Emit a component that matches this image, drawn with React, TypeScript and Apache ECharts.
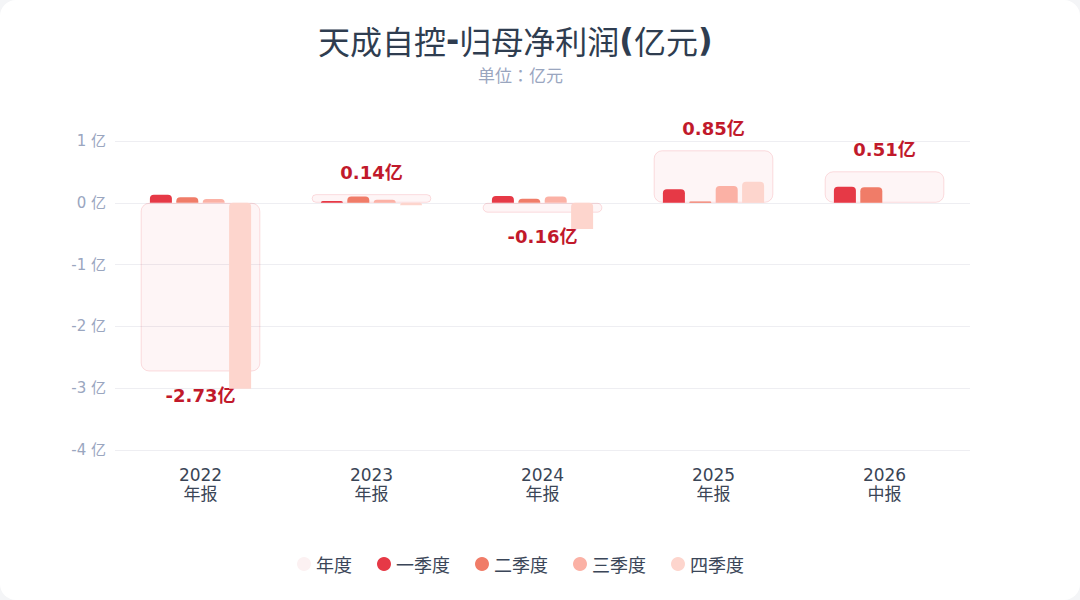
import React, { useEffect, useRef } from "react";
import * as echarts from "echarts";

const categories = ["2022\n年报", "2023\n年报", "2024\n年报", "2025\n年报", "2026\n中报"];
const annual = [-2.73, 0.14, -0.16, 0.85, 0.51];
const q1 = [0.13, 0.03, 0.11, 0.22, 0.26];
const q2 = [0.09, 0.1, 0.065, 0.02, 0.25];
const q3 = [0.06, 0.05, 0.1, 0.27, null];
const q4 = [-3.01, -0.04, -0.425, 0.34, null];
const yTicks = { min: -4, max: 1, interval: 1 };

const seriesNames = ["年度", "一季度", "二季度", "三季度", "四季度"];
const quarterColors = ["#e63946", "#f07c68", "#fbb1a5", "#fdd5cd"];

export default function App() {
  const ref = useRef<HTMLDivElement>(null);
  useEffect(() => {
    document.body.style.margin = "0";
    if (!ref.current) return;
    const chart = echarts.init(ref.current, null, { renderer: "svg" });
    const font = "'DejaVu Sans', 'Noto Sans CJK JP', sans-serif";
    const cjk = "'Noto Sans CJK JP', sans-serif";
    const quarters = [q1, q2, q3, q4];
    const titleColor = "#2f3d50";
    chart.setOption({
      animation: false,
      textStyle: { fontFamily: font },
      title: [
        {
          text: "{n|天成自控}{b|-}{n|归母净利润}{b|(}{n|亿元}{b|)}",
          left: 313,
          top: 19,
          textStyle: {
            fontSize: 32,
            color: titleColor,
            rich: {
              n: { fontSize: 32, color: titleColor, fontFamily: cjk, fontWeight: "normal" },
              b: { fontSize: 32, color: titleColor, fontFamily: "'DejaVu Sans', sans-serif", fontWeight: "bold" },
            },
          },
        },
        {
          text: "单位：亿元",
          left: 473,
          top: 61,
          textStyle: { fontSize: 17, color: "#9aa6bf", fontWeight: "normal", fontFamily: cjk },
        },
      ],
      legend: {
        bottom: 22,
        left: 292,
        icon: "circle",
        itemWidth: 14,
        itemHeight: 14,
        itemGap: 25,
        textStyle: { fontSize: 18, color: "#3b4658", fontFamily: cjk },
        data: [
          { name: seriesNames[0], itemStyle: { borderWidth: 0, color: "#fcf1f2" } },
          ...seriesNames.slice(1),
        ],
      },
      grid: { left: 115, right: 110, top: 141, bottom: 150 },
      xAxis: [
        {
          type: "category",
          data: categories,
          axisLine: { show: false },
          axisTick: { show: false },
          axisLabel: { fontSize: 17, lineHeight: 19, color: "#3a4556", margin: 15, fontFamily: font },
        },
        {
          type: "category",
          data: categories,
          show: false,
        },
      ],
      yAxis: {
        type: "value",
        min: yTicks.min,
        max: yTicks.max,
        interval: yTicks.interval,
        axisLine: { show: false },
        axisTick: { show: false },
        axisLabel: { formatter: "{value} 亿", fontSize: 15, color: "#9aa6bf", margin: 9, fontFamily: font },
        splitLine: { lineStyle: { color: "#eeeef2", width: 1 } },
      },
      series: [
        {
          name: seriesNames[0],
          type: "bar",
          xAxisIndex: 1,
          barWidth: "70%",
          z: 1,
          itemStyle: {
            color: "rgba(230,57,70,0.05)",
            borderColor: "rgba(230,57,70,0.16)",
            borderWidth: 1,
            borderRadius: 8,
          },
          data: annual.map((v) => ({
            value: v,
            label: {
              show: true,
              position: v >= 0 ? "top" : "bottom",
              distance: v >= 0 ? 13 : 15,
              formatter: v.toFixed(2) + "亿",
              fontSize: 18,
              fontWeight: "bold",
              color: "#c1192b",
              fontFamily: font,
            },
          })),
        },
        ...quarters.map((d, i) => ({
          name: seriesNames[i + 1],
          type: "bar",
          xAxisIndex: 0,
          barWidth: 22,
          barGap: "20%",
          z: 2,
          itemStyle: { color: quarterColors[i], borderRadius: [4, 4, 0, 0] },
          data: d,
        })),
      ],
      color: ["#fcf1f2", ...quarterColors],
    });
    return () => chart.dispose();
  }, []);
  return (
    <div style={{ position: "fixed", inset: 0, background: "#f4f5f7" }}>
      <div
        style={{
          position: "absolute",
          left: 0,
          top: 0,
          width: 1080,
          height: 600,
          background: "#ffffff",
          borderRadius: 16,
          overflow: "hidden",
        }}
      >
        <div ref={ref} style={{ width: 1080, height: 600 }} />
      </div>
    </div>
  );
}
